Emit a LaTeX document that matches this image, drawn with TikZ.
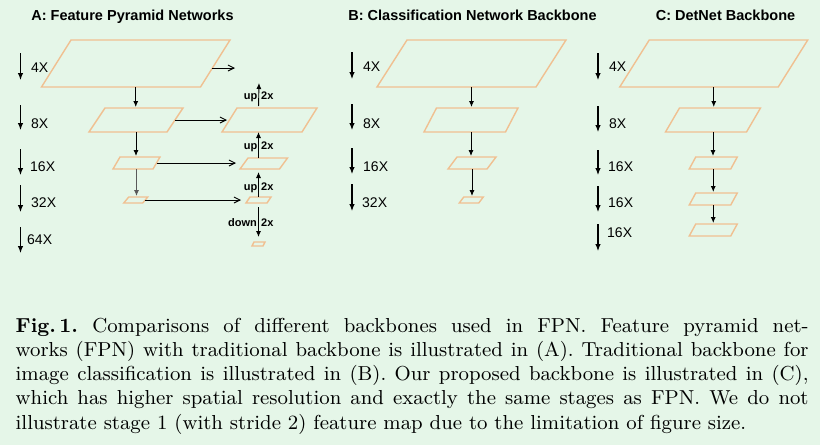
\documentclass[tikz,border=0pt]{standalone}
\usepackage{fontspec}
\setsansfont{Liberation Sans}
\usetikzlibrary{arrows.meta,calc}
\definecolor{bgmint}{RGB}{229,246,232}
\definecolor{paraline}{RGB}{240,192,145}
% name, cx, cy, w, h, slant
\newcommand{\featmap}[6]{%
  \node[inner sep=0pt,outer sep=0pt,minimum width=#4pt,minimum height=#5pt] (#1) at (#2,#3) {};
  \draw[pline] ({#2-#4/2+#6/2},{#3-#5/2}) -- ({#2+#4/2+#6/2},{#3-#5/2}) --
    ({#2+#4/2-#6/2},{#3+#5/2}) -- ({#2-#4/2-#6/2},{#3+#5/2}) -- cycle;
}
\begin{document}
\begin{tikzpicture}[x=1pt,y=-1pt,
  pline/.style={draw=paraline,line width=1.4pt,line join=miter},
  varrow/.style={-{Latex[length=6pt,width=5pt]},line width=0.9pt},
  latarrow/.style={-{Straight Barb[length=6pt,width=6pt]},line width=0.9pt},
  stride/.style={-{Latex[length=7pt,width=5.5pt]},line width=1.1pt},
  scalelbl/.style={font=\sffamily\fontsize{14}{14}\selectfont,anchor=base west,inner sep=0pt},
  paneltitle/.style={font=\sffamily\bfseries\fontsize{14.5}{15}\selectfont,anchor=base,inner sep=0pt},
  oplbl/.style={font=\sffamily\bfseries\fontsize{11}{11}\selectfont,inner sep=0pt}]
\fill[bgmint] (0,0) rectangle (820,445);
\useasboundingbox (0,0) rectangle (820,445);

% titles
\node[paneltitle] (tA) at (132.5,20) {A: Feature Pyramid Networks};
\node[paneltitle] (tB) at (472.5,20) {B: Classification Network Backbone};
\node[paneltitle] (tC) at (725.5,20) {C: DetNet Backbone};

% stride arrows
\foreach \n/\x/\ya/\yb in {sA1/20.5/53/80, sA2/20.5/105/130, sA3/20.5/149/175, sA4/20.5/185/212, sA5/20.5/227/253,
  sB1/352/52/79, sB2/352/104/130, sB3/352/148/174, sB4/352/184/211,
  sC1/598/53/80, sC2/598/106/132, sC3/598/150/175, sC4/598/186/212, sC5/598/224/251}{
  \coordinate (\n s) at (\x,\ya);
  \coordinate (\n e) at (\x,\yb);
  \draw[stride] (\n s) -- (\n e);
}

% stride labels
\node[scalelbl] (lA1) at (31,72) {4X};
\node[scalelbl] (lA2) at (31,128) {8X};
\node[scalelbl] (lA3) at (30,171) {16X};
\node[scalelbl] (lA4) at (31,207) {32X};
\node[scalelbl] (lA5) at (27,244.5) {64X};
\node[scalelbl] (lB1) at (363,71) {4X};
\node[scalelbl] (lB2) at (363,128) {8X};
\node[scalelbl] (lB3) at (363,171) {16X};
\node[scalelbl] (lB4) at (362,207) {32X};
\node[scalelbl] (lC1) at (609,71.7) {4X};
\node[scalelbl] (lC2) at (609,128) {8X};
\node[scalelbl] (lC3) at (608,171) {16X};
\node[scalelbl] (lC4) at (608,207.7) {16X};
\node[scalelbl] (lC5) at (607,237.3) {16X};

% panel A
\featmap{A4}{135.75}{63.5}{159}{47}{29.5}
\featmap{A8}{136}{120}{78}{24}{16}
\featmap{A16}{136.5}{163}{40}{12}{7}
\featmap{A32}{135.75}{200}{19}{6}{5}
\featmap{R8}{269.5}{120}{80}{24}{15}
\featmap{R16}{263.75}{163.5}{39.5}{11}{8}
\featmap{R32}{258.5}{200}{21}{6}{4}
\featmap{R64}{258.5}{244}{11}{4}{2}

\draw[varrow,shorten >=1pt] (A4.south) -- (A4.south |- A8.north);
\draw[varrow,shorten >=1pt] (A8.south) -- (A8.south |- A16.north);
\draw[varrow,shorten >=1pt,black!65] (A16.south) -- (A16.south |- A32.north);

\coordinate (A4out) at (235,68);
\draw[latarrow] ($(A4.east)+(-2.8,4.5)$) -- (A4out);
\draw[latarrow,shorten >=2.5pt] (A8.east) -- (A8.east -| R8.west);
\draw[latarrow,shorten >=8pt] (A16.east) -- (A16.east -| R16.west);
\draw[latarrow,shorten >=7pt] (A32.east) -- (A32.east -| R32.west);

\coordinate (Rtop) at (259,83);
\draw[varrow,shorten >=3pt] (R32.north) -- (R32.north |- R16.south);
\draw[varrow] (R32.north |- R16.north) -- (R32.north |- R8.south);
\draw[varrow,shorten <=2pt] (R32.north |- R8.north) -- (Rtop);
\draw[varrow,shorten <=4pt,shorten >=5pt] (R32.south) -- (R64.north);

\node[oplbl,anchor=base east] (u1) at (257.5,99.5) {up};
\node[oplbl,anchor=base west] (x1) at (261,99.5) {2x};
\node[oplbl,anchor=base east] (u2) at (257.5,149) {up};
\node[oplbl,anchor=base west] (x2) at (261,149) {2x};
\node[oplbl,anchor=base east] (u3) at (257.5,190) {up};
\node[oplbl,anchor=base west] (x3) at (261,190) {2x};
\node[oplbl,anchor=base east] (d4) at (257,226.7) {down};
\node[oplbl,anchor=base west] (x4) at (261,226.7) {2x};

% panel B
\featmap{B4}{471.5}{63.5}{159}{47}{30}
\featmap{B8}{471}{120}{81.5}{24}{12.5}
\featmap{B16}{472}{163}{39}{12}{9}
\featmap{B32}{471.25}{200}{19.5}{6}{4.5}
\draw[varrow,shorten >=1pt] (B4.south) -- (B4.south |- B8.north);
\draw[varrow,shorten >=1pt] (B8.south) -- (B8.south |- B16.north);
\draw[varrow,shorten >=1pt] (B16.south) -- (B16.south |- B32.north);

% panel C
\featmap{C4}{713.75}{63.5}{158.5}{47}{29.5}
\featmap{C8}{713}{120}{81}{24}{14}
\featmap{C16a}{713.25}{163}{41.5}{12}{6.5}
\featmap{C16b}{713.25}{199}{41.5}{12}{6.5}
\featmap{C16c}{713.25}{230}{41.5}{12}{6.5}
\draw[varrow,shorten >=1pt] (C4.south) -- (C4.south |- C8.north);
\draw[varrow,shorten >=1pt] (C8.south) -- (C8.south |- C16a.north);
\draw[varrow,shorten >=1pt] (C16a.south) -- (C16a.south |- C16b.north);
\draw[varrow,shorten >=1pt] (C16b.south) -- (C16b.south |- C16c.north);

% caption (9pt design size, scaled up)
\node[anchor=base west,inner sep=0pt] (cap) at (15.5,332)
 {\scalebox{2.25}{\parbox[t]{352.4pt}{\fontsize{9}{10.78}\selectfont\frenchspacing
 \textbf{Fig.\,1.}\ Comparisons of different backbones used in FPN. Feature pyramid net-\linebreak
 works (FPN) with traditional backbone is illustrated in (A). Traditional backbone for\linebreak
 image classification is illustrated in (B). Our proposed backbone is illustrated in (C),\linebreak
 which has higher spatial resolution and exactly the same stages as FPN. We do not\linebreak
 illustrate stage 1 (with stride 2) feature map due to the limitation of figure size.}}};
\end{tikzpicture}
\end{document}
